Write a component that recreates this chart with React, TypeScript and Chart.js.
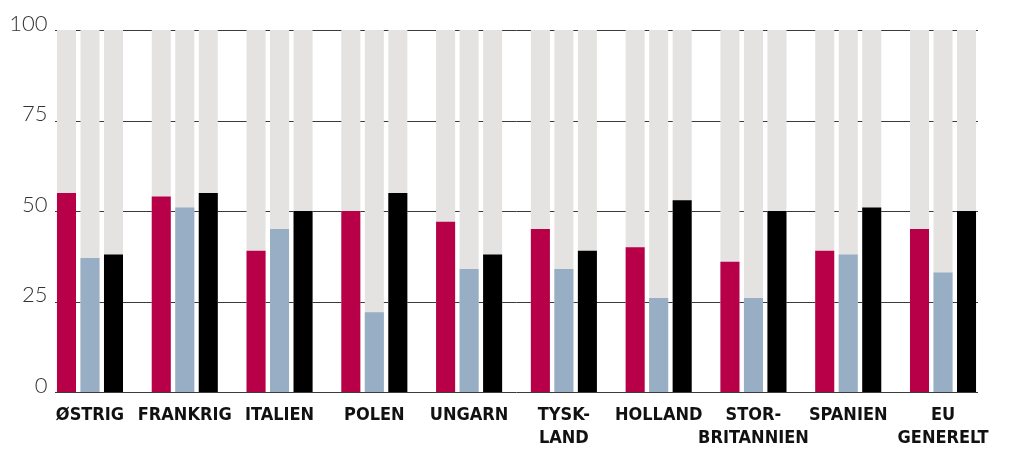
import React, { useEffect, useRef } from "react";
import { Chart, registerables } from "chart.js";

Chart.register(...registerables);

const categories: (string | string[])[] = [
  "ØSTRIG",
  "FRANKRIG",
  "ITALIEN",
  "POLEN",
  "UNGARN",
  ["TYSK-", "LAND"],
  "HOLLAND",
  ["STOR-", "BRITANNIEN"],
  "SPANIEN",
  ["EU", "GENERELT"],
];

const seriesRed = [55, 54, 39, 50, 47, 45, 40, 36, 39, 45];
const seriesBlue = [37, 51, 45, 22, 34, 34, 26, 26, 38, 33];
const seriesBlack = [38, 55, 50, 55, 38, 39, 53, 50, 51, 50];
const fullScale = [100, 100, 100, 100, 100, 100, 100, 100, 100, 100];

const yTicks = [0, 25, 50, 75, 100];
const yTickLabels = ["0", "25", "50", "75", "100"];

const RED = "#b70047";
const BLUE = "#97aec4";
const BLACK = "#000000";
const GRAY = "#e4e3e2";
const GRID = "#3a3a3a";

const gridPlugin = {
  id: "customGrid",
  beforeDatasetsDraw(chart: any) {
    const { ctx, chartArea, scales } = chart;
    const y = scales.y;
    const x0 = chartArea.left + 12.4;
    const x1 = chartArea.right - 12.4;
    ctx.save();
    ctx.strokeStyle = GRID;
    ctx.lineWidth = 1;
    for (const v of yTicks) {
      const py = Math.round(y.getPixelForValue(v)) + 0.5;
      ctx.beginPath();
      ctx.moveTo(x0, py);
      ctx.lineTo(x1, py);
      ctx.stroke();
    }
    ctx.restore();
  },
  afterDraw(chart: any) {
    const { ctx, chartArea, scales } = chart;
    const y = scales.y;
    ctx.save();
    ctx.fillStyle = "#333333";
    ctx.font = "300 22px Lato, 'Open Sans', sans-serif";
    ctx.textAlign = "right";
    ctx.textBaseline = "alphabetic";
    yTicks.forEach((v, i) => {
      const py = y.getPixelForValue(v);
      ctx.fillText(yTickLabels[i], chartArea.left + 5, py + 0.5);
    });
    ctx.restore();
  },
};

export default function App() {
  const ref = useRef<HTMLCanvasElement | null>(null);

  useEffect(() => {
    if (!ref.current) return;
    const common = {
      categoryPercentage: 0.744,
      barPercentage: 0.81,
      borderWidth: 0,
    };
    const chart = new Chart(ref.current, {
      type: "bar",
      data: {
        labels: categories,
        datasets: [
          { ...common, data: seriesRed, backgroundColor: RED, stack: "s0", order: 0 },
          { ...common, data: seriesBlue, backgroundColor: BLUE, stack: "s1", order: 0 },
          { ...common, data: seriesBlack, backgroundColor: BLACK, stack: "s2", order: 0 },
          { ...common, data: fullScale, backgroundColor: GRAY, stack: "s0", order: 1 },
          { ...common, data: fullScale, backgroundColor: GRAY, stack: "s1", order: 1 },
          { ...common, data: fullScale, backgroundColor: GRAY, stack: "s2", order: 1 },
        ],
      },
      options: {
        animation: false,
        responsive: false,
        maintainAspectRatio: false,
        layout: { padding: { left: 12.6, right: 26.6, top: 30, bottom: 0 } },
        plugins: { legend: { display: false }, tooltip: { enabled: false } },
        scales: {
          x: {
            grid: { display: false, drawTicks: false },
            border: { display: false },
            ticks: {
              color: "#111111",
              padding: 12,
              maxRotation: 0,
              autoSkip: false,
              font: {
                family: "'DejaVu Sans Condensed', 'DejaVu Sans', sans-serif",
                weight: "bold",
                size: 18,
                lineHeight: 1.28,
              },
            },
            afterFit: (s: any) => {
              s.height = 58;
            },
          },
          y: {
            min: 0,
            max: 100,
            stacked: false,
            grid: { display: false, drawTicks: false },
            border: { display: false },
            afterBuildTicks: (s: any) => {
              s.ticks = yTicks.map((v) => ({ value: v }));
            },
            ticks: { display: false },
            afterFit: (s: any) => {
              s.width = 30;
            },
          },
        },
      },
      plugins: [gridPlugin],
    });
    return () => chart.destroy();
  }, []);

  return (
    <div style={{ position: "fixed", left: 0, top: 0, width: 1017, height: 450, background: "#fff" }}>
      <canvas ref={ref} width={1017} height={450} style={{ width: 1017, height: 450 }} />
    </div>
  );
}
